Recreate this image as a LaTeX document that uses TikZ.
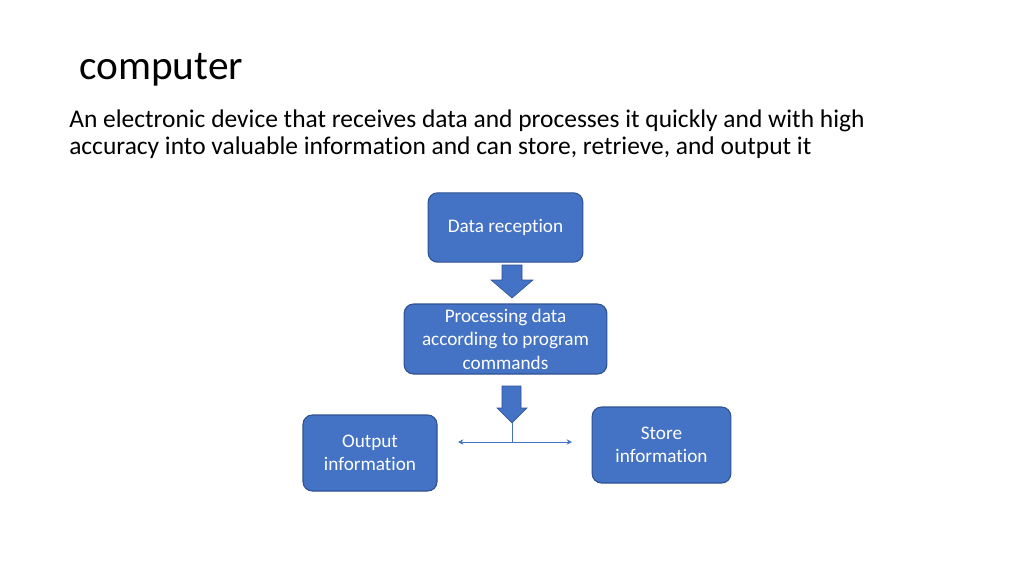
\documentclass[tikz,border=0pt]{standalone}
\usepackage{fontspec}
\setmainfont{Carlito}[RawFeature={-liga,-clig,-dlig,-calt}]
\usetikzlibrary{calc,arrows.meta,positioning}
\definecolor{boxblue}{HTML}{4472C4}
\definecolor{edgeblue}{HTML}{2F528F}
\tikzset{
  box/.style={draw=edgeblue,thick,fill=boxblue,rounded corners=7pt,text=white,align=center,inner sep=0pt,font=\fontsize{14.4}{17.6}\selectfont},
  blk/.style={fill=boxblue,draw=edgeblue,thin},
  ln/.style={{Stealth[length=4pt,width=4pt]}-{Stealth[length=4pt,width=4pt]},boxblue,line width=0.75pt}
}
\begin{document}
\begin{tikzpicture}[x=0.75pt,y=-0.75pt]
\useasboundingbox[fill=white] (0,0) rectangle (1024,576);
% heading and definition
\node[anchor=base west,inner sep=0pt,font=\fontsize{31}{37}\selectfont] (title) at (79,79) {computer};
\node[anchor=base west,inner sep=0pt,font=\fontsize{19.1}{22}\selectfont] (line1) at (69,127) {An electronic device that receives data and processes it quickly and with high};
\node[anchor=base west,inner sep=0pt,font=\fontsize{19.1}{22}\selectfont] (line2) at (69,154) {accuracy into valuable information and can store, retrieve, and output it};
% boxes
\node[box,minimum width=116pt,minimum height=52pt] (recv) at (505.5,227.5) {\raisebox{-1.5pt}{Data reception}};
\node[box,minimum width=152pt,minimum height=52.5pt] (proc) at (505.5,339) {Processing data\\according to program\\commands};
\node[box,minimum width=100.5pt,minimum height=57pt] (outp) at (370,453) {Output\\information};
\node[box,minimum width=104pt,minimum height=57pt] (stor) at (661.5,445) {Store\\information};
% block arrows
\draw[blk] (502,265) -- (522,265) -- (522,280) -- (533,280) -- (512,298) -- (491,280) -- (502,280) -- cycle;
\draw[blk] (502,386) -- (521,386) -- (521,408) -- (527,408) -- (512,423) -- (497,408) -- (502,408) -- cycle;
% split line
\coordinate (top) at (512,423);
\coordinate (mid) at (512,442);
\coordinate (lend) at (458,442);
\coordinate (rend) at (572,442);
\draw[boxblue,line width=0.75pt] (top) -- (mid);
\draw[ln] (lend) -- (rend);
\end{tikzpicture}
\end{document}
